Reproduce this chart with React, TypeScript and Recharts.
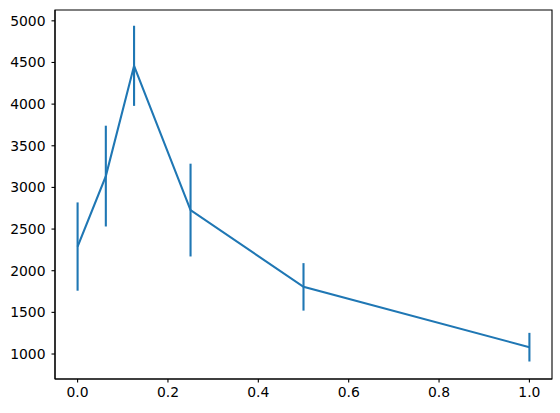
import { LineChart, Line, XAxis, YAxis, ErrorBar, ReferenceArea } from "recharts";

const xValues = [0, 0.0625, 0.125, 0.25, 0.5, 1.0];
const means = [2290, 3136, 4460, 2728, 1806, 1082];
const errors = [530, 605, 481, 557, 285, 172];
const xTicks = [0, 0.2, 0.4, 0.6, 0.8, 1.0];
const yTicks = [1000, 1500, 2000, 2500, 3000, 3500, 4000, 4500, 5000];

const data = xValues.map((x, i) => ({ x, y: means[i], err: errors[i] }));

const BLUE = "#1f77b4";
const X_DOMAIN: [number, number] = [-0.05, 1.05];
const Y_DOMAIN: [number, number] = [700, 5130];
const tickStyle = { fill: "#000", fontSize: 13.9, fontFamily: "DejaVu Sans" };
const axisLine = { stroke: "#000", strokeWidth: 1.1 };
const tickLine = { stroke: "#000", strokeWidth: 1.1 };

export default function App() {
  return (
    <div style={{ position: "absolute", left: 0, top: 0 }}>
      <LineChart width={560} height={413} data={data} margin={{ top: 10, right: 8, left: 0, bottom: 0 }}>
        <XAxis
          dataKey="x"
          type="number"
          domain={X_DOMAIN}
          ticks={xTicks}
          tickFormatter={(v: number) => v.toFixed(1)}
          tick={tickStyle}
          axisLine={axisLine}
          tickLine={tickLine}
          tickSize={3.5}
          tickMargin={5}
          height={34}
          allowDataOverflow
        />
        <YAxis
          type="number"
          domain={Y_DOMAIN}
          ticks={yTicks}
          tick={tickStyle}
          axisLine={axisLine}
          tickLine={tickLine}
          tickSize={3.5}
          tickMargin={6}
          width={55}
          allowDataOverflow
        />
        {/* frame around the plot area */}
        <ReferenceArea
          x1={X_DOMAIN[0]}
          x2={X_DOMAIN[1]}
          y1={Y_DOMAIN[0]}
          y2={Y_DOMAIN[1]}
          fill="none"
          fillOpacity={0}
          stroke="#000"
          strokeWidth={1.1}
          ifOverflow="visible"
        />
        <Line
          dataKey="y"
          type="linear"
          stroke={BLUE}
          strokeWidth={2.1}
          dot={false}
          activeDot={false}
          isAnimationActive={false}
        >
          <ErrorBar dataKey="err" width={0} stroke={BLUE} strokeWidth={2.1} direction="y" isAnimationActive={false} />
        </Line>
      </LineChart>
    </div>
  );
}
